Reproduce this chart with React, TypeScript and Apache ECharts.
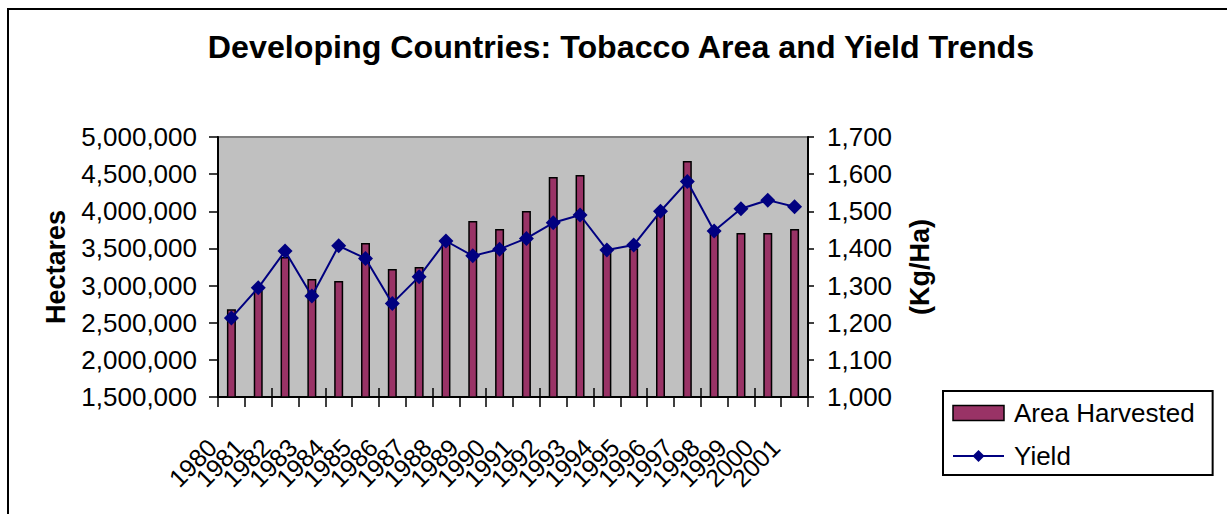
import React, { useEffect, useRef } from "react";
import * as echarts from "echarts";

const years = ["1980","1981","1982","1983","1984","1985","1986","1987","1988","1989","1990","1991","1992","1993","1994","1995","1996","1997","1998","1999","2000","2001"];
const areaHarvested = [2680000, 2935000, 3385000, 3088000, 3061000, 3573000, 3223000, 3250000, 3600000, 3869000, 3762000, 4004000, 4461000, 4488000, 3450000, 3500000, 3980000, 4677000, 3700000, 3708000, 3708000, 3762000];
const yieldKgHa = [1213, 1294, 1393, 1272, 1407, 1373, 1252, 1324, 1420, 1380, 1398, 1427, 1469, 1490, 1396, 1409, 1500, 1580, 1447, 1507, 1530, 1512];

const titleText = "Developing Countries: Tobacco Area and Yield Trends";
const leftAxisName = "Hectares";
const rightAxisName = "(Kg/Ha)";
const seriesNames = ["Area Harvested", "Yield"];

const FONT = 'Arial, "Liberation Sans", sans-serif';
const fmt = (v: number) => v.toLocaleString("en-US");

export default function App() {
  const ref = useRef<HTMLDivElement>(null);
  useEffect(() => {
    document.body.style.margin = "0";
    if (!ref.current) return;
    const chart = echarts.init(ref.current, null, { renderer: "svg" });
    chart.setOption({
      animation: false,
      backgroundColor: "#ffffff",
      textStyle: { fontFamily: FONT, color: "#000" },
      title: {
        text: titleText,
        left: 616,
        textAlign: "center",
        top: 26,
        textStyle: { fontFamily: FONT, fontSize: 32.2, fontWeight: "bold", color: "#000" },
      },
      graphic: [
        {
          type: "rect",
          shape: { x: 8, y: 9, width: 1400, height: 700 },
          style: { fill: "none", stroke: "#000", lineWidth: 2 },
          silent: true,
        },
      ],
      legend: {
        orient: "vertical",
        left: 943,
        top: 391,
        padding: [9, 18, 6, 9],
        borderColor: "#000",
        borderWidth: 2,
        itemWidth: 51,
        itemHeight: 15,
        itemGap: 17,
        textStyle: { fontFamily: FONT, fontSize: 26, color: "#000", lineHeight: 26, padding: [0, 0, 0, 5] },
        data: [
          { name: seriesNames[0], icon: "rect", itemStyle: { color: "#993366", borderColor: "#000", borderWidth: 1.5 } },
          { name: seriesNames[1] },
        ],
      },
      grid: {
        left: 218,
        right: 419,
        top: 137,
        bottom: 117,
        show: true,
        backgroundColor: "#C0C0C0",
        borderColor: "#808080",
        borderWidth: 2,
        containLabel: false,
      },
      xAxis: [
        {
          type: "category",
          data: years,
          position: "bottom",
          axisLine: { lineStyle: { color: "#000", width: 2 } },
          axisTick: { show: true, inside: false, length: 10, alignWithLabel: false, lineStyle: { color: "#000", width: 1.5 } },
          axisLabel: {
            interval: 0,
            rotate: 45,
            fontSize: 25,
            fontFamily: FONT,
            color: "#000",
            margin: 27,
            padding: [0, 27, 0, 0],
          },
          splitLine: { show: false },
        },
        {
          type: "category",
          data: years,
          position: "bottom",
          axisLine: { show: false },
          axisTick: { show: true, inside: true, length: 9, alignWithLabel: false, lineStyle: { color: "#000", width: 1.5 } },
          axisLabel: { show: false },
          splitLine: { show: false },
        },
      ],
      yAxis: [
        {
          type: "value",
          position: "left",
          min: 1500000,
          max: 5000000,
          interval: 500000,
          name: leftAxisName,
          nameLocation: "middle",
          nameRotate: 90,
          nameGap: 149,
          nameTextStyle: { fontFamily: FONT, fontSize: 27, fontWeight: "bold", color: "#000" },
          axisLine: { show: true, lineStyle: { color: "#000", width: 2 } },
          axisTick: { show: true, length: 9, lineStyle: { color: "#000", width: 1.5 } },
          axisLabel: { fontSize: 26, fontFamily: FONT, color: "#000", margin: 21, formatter: (v: number) => fmt(v) },
          splitLine: { show: false },
        },
        {
          type: "value",
          position: "right",
          min: 1000,
          max: 1700,
          interval: 100,
          name: rightAxisName,
          nameLocation: "middle",
          nameRotate: 90,
          nameGap: 98,
          nameTextStyle: { fontFamily: FONT, fontSize: 27, fontWeight: "bold", color: "#000" },
          axisLine: { show: true, lineStyle: { color: "#000", width: 2 } },
          axisTick: { show: true, length: 6, lineStyle: { color: "#000", width: 1.5 } },
          axisLabel: { fontSize: 26, fontFamily: FONT, color: "#000", margin: 19, formatter: (v: number) => fmt(v) },
          splitLine: { show: false },
        },
      ],
      series: [
        {
          name: seriesNames[0],
          type: "bar",
          xAxisIndex: 0,
          yAxisIndex: 0,
          data: areaHarvested,
          barWidth: 9,
          itemStyle: { color: "#993366", borderColor: "#000", borderWidth: 1.5 },
        },
        {
          name: seriesNames[1],
          type: "line",
          xAxisIndex: 0,
          yAxisIndex: 1,
          data: yieldKgHa,
          symbol: "diamond",
          symbolSize: 15,
          lineStyle: { color: "#000080", width: 2 },
          itemStyle: { color: "#000080" },
          z: 5,
        },
      ],
    });
    return () => chart.dispose();
  }, []);
  return <div ref={ref} style={{ width: 1227, height: 514, overflow: "hidden" }} />;
}
